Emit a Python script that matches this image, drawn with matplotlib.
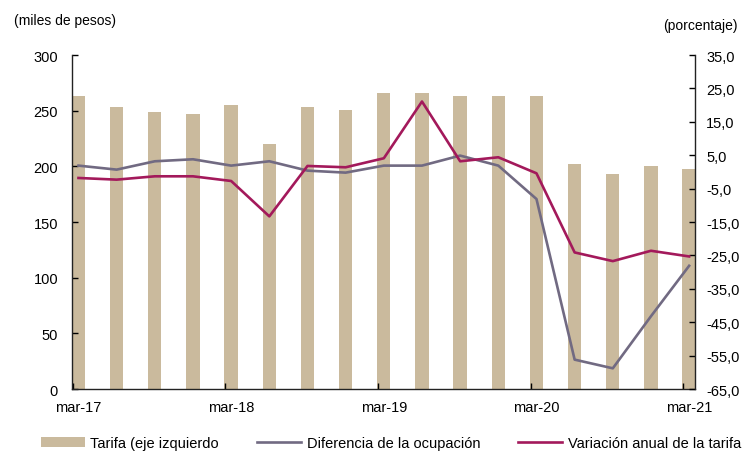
import matplotlib
matplotlib.use("Agg")
import matplotlib.pyplot as plt
import numpy as np

plt.rcParams["font.family"] = ["Liberation Sans", "DejaVu Sans"]

# quarterly data, mar-17 .. mar-21
periods = ["mar-17", "jun-17", "sep-17", "dic-17", "mar-18", "jun-18", "sep-18", "dic-18",
           "mar-19", "jun-19", "sep-19", "dic-19", "mar-20", "jun-20", "sep-20", "dic-20", "mar-21"]
tarifa = [263, 253.5, 249, 247.5, 255, 220, 253.5, 250.5, 266, 266, 263, 263, 263, 202, 193, 200.5, 197.5]
ocupacion = [1.9, 0.7, 3.2, 3.8, 1.9, 3.2, 0.4, -0.2, 1.9, 1.9, 4.9, 1.9, -8.1, -56.2, -58.8, -43.2, -28.1]
var_tarifa = [-1.8, -2.3, -1.3, -1.3, -2.7, -13.3, 1.8, 1.4, 4.1, 21.1, 3.2, 4.4, -0.4, -24.1, -26.7, -23.6, -25.3]
left_ticks = [0, 50, 100, 150, 200, 250, 300]
right_ticks = [-65, -55, -45, -35, -25, -15, -5, 5, 15, 25, 35]
label_idx = [0, 4, 8, 12, 16]

bar_color = "#CABA9D"
gray_color = "#716A82"
red_color = "#A3195B"

fig = plt.figure(figsize=(7.5, 4.56), dpi=100)
ax = fig.add_axes([0.096, 0.1447, 0.831, 0.7323])
ax2 = ax.twinx()

x = np.arange(len(periods))
bars = ax.bar(x, tarifa, width=0.35, color=bar_color, label="Tarifa (eje izquierdo", zorder=1)
l1, = ax2.plot(x, ocupacion, color=gray_color, lw=1.9, label="Diferencia de la ocupación")
l2, = ax2.plot(x, var_tarifa, color=red_color, lw=1.9, label="Variación anual de la tarifa")

ax.set_xlim(-0.17, len(periods) - 1 + 0.16)
ax.set_ylim(0, 300)
ax2.set_ylim(-65, 35)

ax.set_yticks(left_ticks)
ax.set_yticklabels([str(v) for v in left_ticks], fontsize=10.5)
ax2.set_yticks(right_ticks)
ax2.set_yticklabels([f"{v:.1f}".replace(".", ",") for v in right_ticks], fontsize=10.5)

ax.set_xticks([i for i in label_idx])
ax.set_xticklabels([periods[i] for i in label_idx], fontsize=10.5)
ax.set_xticks([i - 0.15 for i in label_idx], minor=True)
ax.tick_params(axis="x", which="major", length=0, pad=8)
ax.tick_params(axis="x", which="minor", direction="in", length=4, width=1)
ax.tick_params(axis="y", direction="in", length=4, width=1, pad=10)
ax2.tick_params(axis="y", direction="in", length=4, width=1, pad=8)

for a in (ax, ax2):
    a.spines["top"].set_visible(False)
    for s in ("left", "right", "bottom"):
        a.spines[s].set_color("#222222")
        a.spines[s].set_linewidth(1)
ax.spines["right"].set_visible(False)
ax2.spines["left"].set_visible(False)
ax2.spines["bottom"].set_visible(False)

fig.text(0.019, 0.955, "(miles de pesos)", fontsize=10, ha="left", va="center")
fig.text(0.983, 0.943, "(porcentaje)", fontsize=10, ha="right", va="center")

fig.legend([bars, l1, l2], [bars.get_label(), l1.get_label(), l2.get_label()],
           loc="lower left", bbox_to_anchor=(0.037, -0.018), ncol=3, frameon=False,
           fontsize=10.5, handlelength=3.0, handletextpad=0.4, columnspacing=2.6)

fig.savefig("out.png", dpi=100)
